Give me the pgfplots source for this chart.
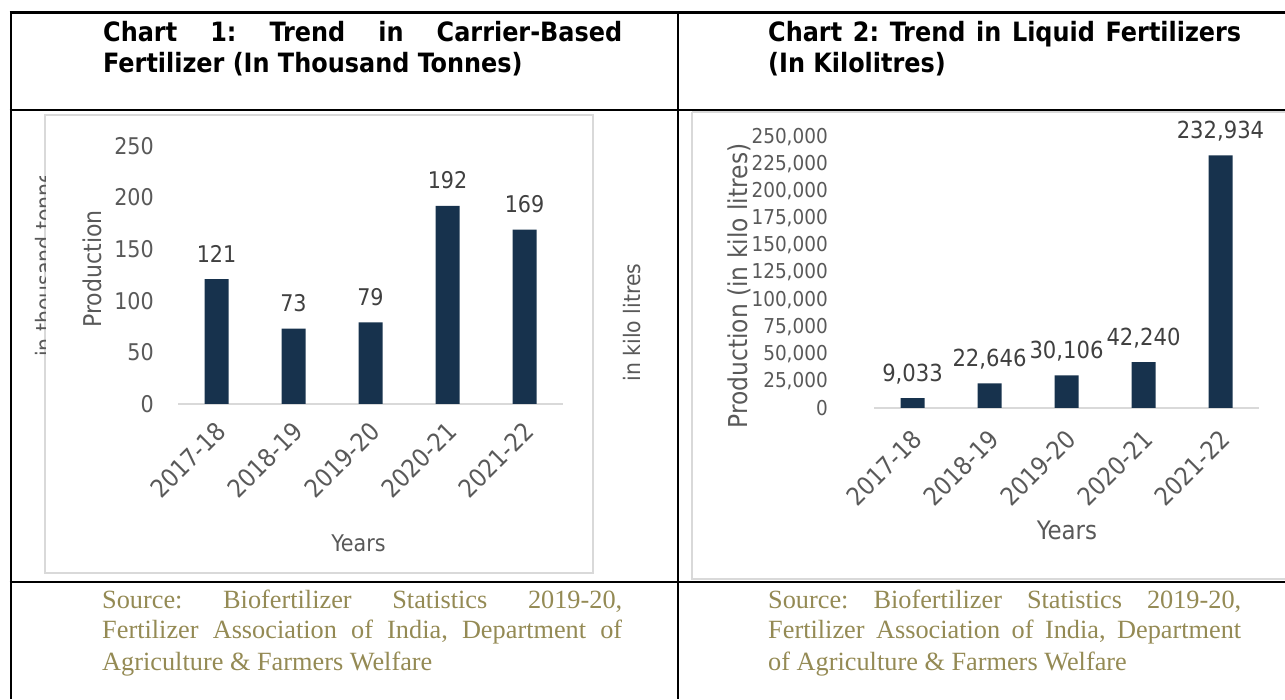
\documentclass[border=0pt]{standalone}
\usepackage{pgfplots}
\pgfplotsset{compat=1.18}
\usepackage{fontspec}
\setmainfont{DejaVu Sans}
\newfontfamily\chartfont{DejaVu Sans Condensed}
\newfontfamily\titlefont{DejaVu Sans Condensed}
\newfontfamily\srcfont{Liberation Serif}
\definecolor{barc}{HTML}{17324D}
\definecolor{tickc}{HTML}{595959}
\definecolor{labc}{HTML}{404040}
\definecolor{srcc}{HTML}{948A54}
\definecolor{framec}{HTML}{D9D9D9}
\newcommand{\cf}[1]{\chartfont\fontsize{#1}{#1}\selectfont}
\begin{document}
\begin{tikzpicture}[x=1pt,y=1pt]
\useasboundingbox (0,0) rectangle (1285,699);
% table borders
\draw[black, line width=2.6pt] (9.5,686.5) -- (1285,686.5);
\draw[black, line width=2.2pt] (9.5,589) -- (1285,589);
\draw[black, line width=2.2pt] (9.5,117) -- (1285,117);
\draw[black, line width=2.2pt] (11,687.8) -- (11,0);
\draw[black, line width=2.2pt] (678,687.8) -- (678,0);
% chart frames
\draw[framec, line width=1.5pt] (45,584) rectangle (593,126);
\draw[framec, line width=1.5pt] (692,587) -- (692,120) -- (1290,120);
\draw[framec, line width=1.5pt] (692,587) -- (1290,587);
% titles
\node[anchor=base west, inner sep=0pt] at (103,657.3) {\titlefont\bfseries\fontsize{26.6}{30}\selectfont\hbox to 519pt{Chart\hfill 1:\hfill Trend\hfill in\hfill Carrier-Based}};
\node[anchor=base west, inner sep=0pt] at (103,626) {\titlefont\bfseries\fontsize{26.6}{30}\selectfont Fertilizer (In Thousand Tonnes)};
\node[anchor=base west, inner sep=0pt] at (768,657.3) {\titlefont\bfseries\fontsize{26.6}{30}\selectfont\hbox to 473pt{Chart\hfill 2:\hfill Trend\hfill in\hfill Liquid\hfill Fertilizers}};
\node[anchor=base west, inner sep=0pt] at (768,626) {\titlefont\bfseries\fontsize{26.6}{30}\selectfont (In Kilolitres)};
% sources
\begin{scope}[every node/.style={anchor=base west, inner sep=0pt, text=srcc, font=\srcfont\fontsize{26.3}{30}\selectfont}]
\node at (102,90) {\hbox to 520pt{Source:\hfill Biofertilizer\hfill Statistics\hfill 2019-20,}};
\node at (102,60) {\hbox to 520pt{Fertilizer\hfill Association\hfill of\hfill India,\hfill Department\hfill of}};
\node at (102,29) {Agriculture \& Farmers Welfare};
\node at (768,90) {\hbox to 473pt{Source:\hfill Biofertilizer\hfill Statistics\hfill 2019-20,}};
\node at (768,60) {\hbox to 473pt{Fertilizer\hfill Association\hfill of\hfill India,\hfill Department}};
\node at (768,29) {of Agriculture \& Farmers Welfare};
\end{scope}
% clipped side label
\begin{scope}
\clip (20,300) rectangle (45,522);
\node[rotate=90, anchor=base west, inner sep=0pt, text=tickc] at (52,342) {\cf{22.7}in thousand tonnes};
\end{scope}
\node[rotate=90, anchor=base, inner sep=0pt, text=tickc] at (640,376.5) {\cf{22.7}in kilo litres};
% axis titles
\node[rotate=90, anchor=base, inner sep=0pt, text=tickc] at (101,430) {\cf{24.5}Production};
\node[anchor=base, inner sep=0pt, text=tickc] at (358.5,147) {\cf{23}Years};
\node[rotate=90, anchor=base, inner sep=0pt, text=tickc] at (747,413) {\cf{26}Production (in kilo litres)};
\node[anchor=base, inner sep=0pt, text=tickc] at (1067,159) {\cf{25.5}Years};
% left chart
\begin{axis}[
  at={(178pt,295pt)}, anchor=south west,
  scale only axis, width=385pt, height=258pt,
  xmin=-0.5, xmax=4.5, ymin=0, ymax=250,
  clip=false,
  axis line style={draw=none},
  major tick length=0pt,
  ytick={0,50,100,150,200,250},
  xtick={0,1,2,3,4},
  xticklabels={2017-18,2018-19,2019-20,2020-21,2021-22},
  /pgf/number format/assume math mode=true,
  yticklabel style={font=\cf{23}, text=tickc, anchor=east, inner sep=0pt, xshift=-24pt},
  xticklabel style={font=\cf{25}, text=tickc, inner sep=0pt, xshift=-2pt, yshift=-16pt, rotate=45, anchor=north east},
  nodes near coords,
  every node near coord/.append style={font=\cf{23}, text=labc, anchor=base, inner sep=0pt, yshift=17pt},
]
\draw[framec, line width=2pt] (axis cs:-0.5,0) -- (axis cs:4.5,0);
\addplot[ybar, bar width=24pt, fill=barc, draw=none] coordinates {(0,121) (1,73) (2,79) (3,192) (4,169)};
\end{axis}
% right chart
\begin{axis}[
  at={(874pt,291pt)}, anchor=south west,
  scale only axis, width=385pt, height=271pt,
  xmin=-0.5, xmax=4.5, ymin=0, ymax=250000,
  clip=false,
  axis line style={draw=none},
  major tick length=0pt,
  scaled y ticks=false,
  ytick={0,25000,50000,75000,100000,125000,150000,175000,200000,225000,250000},
  xtick={0,1,2,3,4},
  xticklabels={2017-18,2018-19,2019-20,2020-21,2021-22},
  /pgf/number format/assume math mode=true,
  /pgf/number format/.cd, fixed, 1000 sep={,}, /pgfplots/.cd,
  yticklabel style={font=\cf{20.5}, text=tickc, anchor=east, inner sep=0pt, xshift=-46pt},
  xticklabel style={font=\cf{25}, text=tickc, inner sep=0pt, xshift=-2pt, yshift=-20pt, rotate=45, anchor=north east},
  nodes near coords,
  every node near coord/.append style={font=\cf{23.5}, text=labc, anchor=base, inner sep=0pt, yshift=17pt},
]
\draw[framec, line width=2pt] (axis cs:-0.5,0) -- (axis cs:4.5,0);
\addplot[ybar, bar width=24pt, fill=barc, draw=none] coordinates {(0,9033) (1,22646) (2,30106) (3,42240) (4,232934)};
\end{axis}
\end{tikzpicture}
\end{document}
